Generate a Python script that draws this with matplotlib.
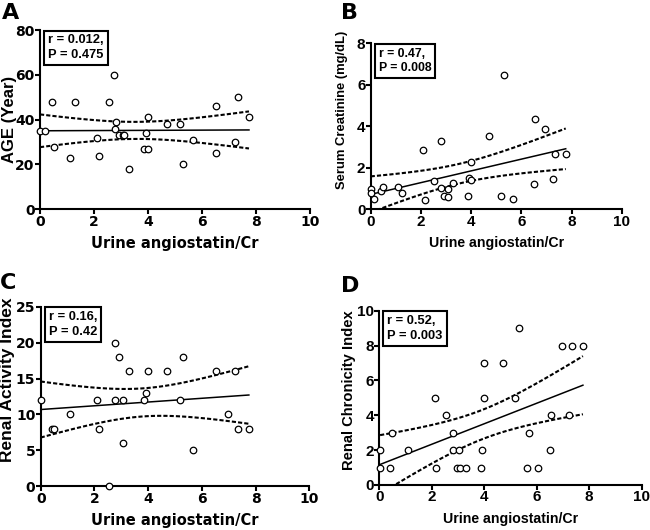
import numpy as np
import matplotlib.pyplot as plt

plt.rcParams['font.family'] = ['DejaVu Sans']
plt.rcParams['font.weight'] = 'bold'

W, H = 650, 530

# Panel A: age
a_x = [0.0, 0.19, 0.43, 0.52, 1.11, 1.3, 2.1, 2.17, 2.56, 2.74, 2.81, 2.78, 2.93, 3.06, 3.1,
       3.31, 3.86, 3.93, 3.99, 4.01, 4.72, 5.19, 5.31, 5.68, 6.52, 6.5, 7.23, 7.32, 7.74]
a_y = [35, 35, 48, 28, 23, 48, 32, 24, 48, 60, 39, 36, 33, 33, 33,
       18, 27, 34, 41, 27, 38, 38, 20, 31, 46, 25, 30, 50, 41]

# Panel B: serum creatinine
b_x = [0.0, 0.0, 0.15, 0.4, 0.48, 1.08, 1.26, 2.08, 2.15, 2.54, 2.79, 2.79, 2.93, 3.06, 3.08,
       3.29, 3.86, 3.92, 3.98, 3.99, 4.72, 5.19, 5.3, 5.68, 6.52, 6.54, 6.96, 7.25, 7.34, 7.77]
b_y = [0.96, 0.77, 0.51, 0.88, 1.09, 1.09, 0.77, 2.86, 0.47, 1.38, 3.31, 1.05, 0.66, 0.96, 0.61,
       1.29, 0.66, 1.49, 2.3, 1.41, 3.53, 0.66, 6.45, 0.5, 1.22, 4.34, 3.86, 1.45, 2.67, 2.67]

# Panel C: renal activity index
c_x = [0.0, 0.41, 0.5, 1.09, 2.08, 2.16, 2.54, 2.78, 2.78, 2.93, 3.05, 3.08, 3.3,
       3.86, 3.91, 3.98, 4.71, 5.19, 5.31, 5.68, 6.53, 6.96, 7.25, 7.33, 7.75]
c_y = [12, 8, 8, 10, 12, 8, 0, 20, 12, 18, 12, 6, 16,
       12, 13, 16, 16, 12, 18, 5, 16, 10, 16, 8, 8]

# Panel D: renal chronicity index
d_x = [0.03, 0.03, 0.42, 0.5, 1.1, 2.11, 2.17, 2.54, 2.8, 2.82, 2.95, 3.05, 3.07, 3.3, 3.86,
       3.93, 3.98, 3.99, 4.71, 5.18, 5.32, 5.62, 5.69, 6.04, 6.52, 6.53, 6.98, 7.24, 7.34, 7.76]
d_y = [2, 1, 1, 3, 2, 5, 1, 4, 3, 2, 1, 2, 1, 1, 1,
       2, 7, 5, 7, 5, 9, 1, 3, 1, 2, 4, 8, 4, 8, 8]

stats = ["r = 0.012,\nP = 0.475", "r = 0.47,\nP = 0.008", "r = 0.16,\nP = 0.42", "r = 0.52,\nP = 0.003"]
ylabels = ["AGE (Year)", "Serum Creatinine (mg/dL)", "Renal Activity Index", "Renal Chronicity Index"]
ytops = [80, 8, 25, 10]
ysteps = [20, 2, 5, 2]
letters = ["A", "B", "C", "D"]

# layout in pixels: axes box (left, top, right, bottom), letter pos, ylabel centre (dx, yfrac)
boxes = [(40, 30, 310, 209.3), (370.7, 43.3, 621.7, 209.3),
         (40.7, 306.7, 309.3, 486.3), (379.3, 310.7, 641.7, 485)]
letter_pos = [(2, 3), (341, 3), (0, 273), (341, 276)]
ylab_pos = [(-30.5, 0.5), (-29, 0.6), (-33, 0.595), (-30, 0.545)]
ylab_size = [12, 9.4, 12.5, 10.6]
xlab_font = [("DejaVu Sans", 10.5), ("Liberation Sans", 10.2),
             ("DejaVu Sans", 10.5), ("Liberation Sans", 10.2)]
tick_font = [("DejaVu Sans", 10), ("Liberation Sans", 11),
             ("DejaVu Sans", 10), ("Liberation Sans", 11)]
box_font = [9.3, 8.8, 9.3, 9.3]

fig = plt.figure(figsize=(W / 100, H / 100), dpi=100)
datasets = [(a_x, a_y), (b_x, b_y), (c_x, c_y), (d_x, d_y)]

for i, (xs, ys) in enumerate(datasets):
    l, t, r, b = boxes[i]
    ax = fig.add_axes([l / W, 1 - b / H, (r - l) / W, (b - t) / H])
    wpx, hpx = r - l, b - t
    x = np.array(xs)
    y = np.array(ys, dtype=float)
    n = len(x)
    # linear fit and its 95% confidence band
    slope, intercept = np.polyfit(x, y, 1)
    xx = np.linspace(x.min(), x.max(), 100)
    fit = slope * xx + intercept
    resid = y - (slope * x + intercept)
    s = np.sqrt(np.sum(resid ** 2) / (n - 2))
    sxx = np.sum((x - x.mean()) ** 2)
    band = 2.05 * s * np.sqrt(1 / n + (xx - x.mean()) ** 2 / sxx)

    ax.plot(xx, fit, color="black", lw=1.1)
    ax.plot(xx, fit + band, color="black", lw=1.5, ls=(0, (2.0, 1.0)))
    ax.plot(xx, fit - band, color="black", lw=1.5, ls=(0, (2.0, 1.0)))
    ax.scatter(x, y, s=22, facecolors="white", edgecolors="black", linewidths=0.9,
               zorder=3, clip_on=False)

    ax.set_xlim(0, 10)
    ax.set_ylim(0, ytops[i])
    ax.set_xticks(np.arange(0, 11, 2))
    ax.set_yticks(np.arange(0, ytops[i] + 0.01, ysteps[i]))
    for sp in ["top", "right"]:
        ax.spines[sp].set_visible(False)
    for sp in ["left", "bottom"]:
        ax.spines[sp].set_linewidth(1.5)
    ax.tick_params(width=1.5, length=3.3, pad=0.5)
    fam, size = tick_font[i]
    for lab in ax.get_xticklabels() + ax.get_yticklabels():
        lab.set_fontweight("bold")
        lab.set_family(fam)
        lab.set_fontsize(size)

    ax.set_ylabel(ylabels[i], fontsize=ylab_size[i], fontweight="bold", family="Liberation Sans")
    ax.yaxis.label.set_va("center")
    ax.yaxis.set_label_coords(ylab_pos[i][0] / wpx, ylab_pos[i][1])

    fam, size = xlab_font[i]
    ax.set_xlabel("Urine angiostatin/Cr", fontsize=size, fontweight="bold", family=fam)
    ax.xaxis.set_label_coords(0.5, -26.5 / hpx)

    ax.annotate(stats[i], xy=(0, 1), xycoords="axes fraction", xytext=(5.8, -3.2),
                textcoords="offset points", ha="left", va="top",
                fontsize=box_font[i], fontweight="bold", linespacing=1.3, family="Liberation Sans",
                bbox=dict(boxstyle="square,pad=0.3", facecolor="white", edgecolor="black", lw=1.5))

    fig.text(letter_pos[i][0] / W, 1 - letter_pos[i][1] / H, letters[i], ha="left", va="top",
             fontsize=16, fontweight="bold")

fig.savefig("out.png", dpi=100)
